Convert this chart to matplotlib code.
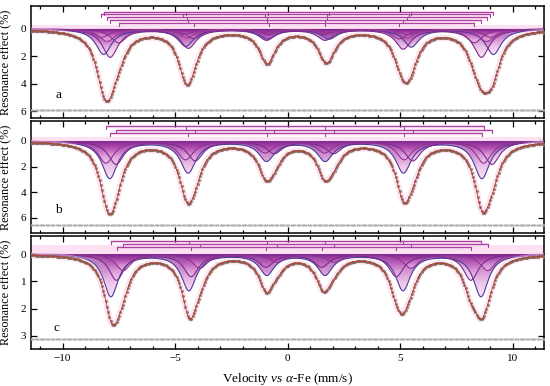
import numpy as np
import matplotlib
matplotlib.use("Agg")
import matplotlib.pyplot as plt
from matplotlib.colors import LinearSegmentedColormap
from matplotlib.patches import Polygon
from matplotlib.ticker import MultipleLocator

plt.rcParams["font.family"] = ["Liberation Serif", "DejaVu Serif"]
plt.rcParams["mathtext.fontset"] = "custom"
plt.rcParams["mathtext.rm"] = "Liberation Serif"
plt.rcParams["mathtext.it"] = "Liberation Serif:italic"

# velocity scale of the spectrometer (mm/s) and number of channels shown
v_min, v_max = -11.4, 11.4
n_channels = 420

# relative positions of the six Zeeman lines (line 1 = -1, line 6 = +1)
zeeman_pos = [-1.0, -0.5787, -0.1575, 0.1575, 0.5787, 1.0]

# sextet components: outer line positions, depth of line 1/6 (%)
a_line1 = [-8.17, -7.88, -8.27, -8.02, -7.50]
a_line6 = [9.15, 8.62, 9.02, 8.85, 8.30]
a_depth = [1.85, 2.05, 0.6, 0.9, 1.0]
a_bar_level = [-1.24, -0.66, -1.06, -0.88, -0.44]
a_ratio = [1.0, 0.67, 0.38, 0.38, 0.70, 1.0]

b_line1 = [-7.90, -7.62, -8.07]
b_line6 = [8.64, 9.09, 8.72]
b_depth = [2.9, 1.8, 1.7]
b_bar_level = [-0.62, -0.88, -1.15]
b_ratio = [1.0, 0.84, 0.52, 0.52, 0.84, 1.0]

c_line1 = [-7.85, -7.60, -7.30]
c_line6 = [8.60, 8.15, 8.90]
c_depth = [1.55, 0.95, 0.60]
c_bar_level = [-0.49, -0.26, -0.38]
c_ratio = [1.0, 0.85, 0.48, 0.48, 0.85, 1.0]

half_width = [0.42, 0.42, 0.40]
resid_level = [5.95, 6.55, 3.10]
panel_labels = ["a", "b", "c"]
label_pos = [(-10.2, 4.8), (-10.2, 5.4), (-10.25, 2.7)]
y_limits = [(6.51, -1.68), (7.17, -1.56), (3.48, -0.66)]
y_step = [2, 2, 1]

edge_colors = ["#4c3a9c", "#7a2a8e", "#8e3592", "#9a3c98", "#8a3090"]
grad_cmap = LinearSegmentedColormap.from_list(
    "comp", ["#741a86", "#b044ad", "#e3a2dc", "#f4d2f0"]
)

panels = [
    (a_line1, a_line6, a_depth, a_bar_level, a_ratio),
    (b_line1, b_line6, b_depth, b_bar_level, b_ratio),
    (c_line1, c_line6, c_depth, c_bar_level, c_ratio),
]

v = np.linspace(v_min, v_max, n_channels)


def sextet(l1, l6, depth, ratio, hw):
    centre = (l1 + l6) / 2
    half = (l6 - l1) / 2
    lines = [centre + half * p for p in zeeman_pos]
    y = np.zeros_like(v)
    for pos, r in zip(lines, ratio):
        y += depth * r / (1 + ((v - pos) / hw) ** 2)
    return lines, y


fig = plt.figure(figsize=(5.5, 3.86), dpi=100)
boxes = [
    [0.0564, 0.6943, 0.9327, 0.2902],
    [0.0564, 0.3964, 0.9327, 0.2902],
    [0.0564, 0.0959, 0.9327, 0.2927],
]

for k, (l1s, l6s, depths, levels, ratio) in enumerate(panels):
    ax = fig.add_axes(boxes[k])
    hw = half_width[k]
    ymax, ymin = y_limits[k]
    tick_len = 3.0 / (112.0 / (ymax - ymin))

    ax.axhspan(-0.32, 0.14, color="#fbe1f2", zorder=0, lw=0)

    total = np.zeros_like(v)
    for j in range(len(l1s)):
        lines, comp = sextet(l1s[j], l6s[j], depths[j], ratio, hw)
        total += comp

        poly = Polygon(
            np.column_stack([np.r_[v, v[::-1]], np.r_[comp, np.zeros_like(v)]]),
            closed=True, facecolor="none", edgecolor="none",
        )
        ax.add_patch(poly)
        grad = np.linspace(0, 1, 256).reshape(-1, 1)
        im = ax.imshow(
            grad, extent=(v_min, v_max, comp.max(), 0), aspect="auto",
            cmap=grad_cmap, alpha=0.62, origin="upper", zorder=1,
        )
        im.set_clip_path(poly)
        ax.plot(v, comp, color=edge_colors[j], lw=0.8, zorder=2)

        # line-position bar above the spectrum
        lev = levels[j]
        ax.plot([lines[0], lines[-1]], [lev, lev], color="#f2c2e8", lw=2.5,
                alpha=0.6, zorder=1, solid_capstyle="butt")
        ax.plot([lines[0], lines[-1]], [lev, lev], color="#a8449f", lw=0.8, zorder=2)
        for pos in lines:
            ax.plot([pos, pos], [lev, lev + tick_len], color="#a8449f", lw=0.8, zorder=2)

    ax.plot(v, total, color="#f7c4e4", lw=4.5, alpha=0.45, zorder=3)
    ax.plot(v, total, "o", ms=2.1, mew=0, color="#7e6a5b", alpha=0.85, zorder=4)
    ax.plot(v, total, color="#c0392b", lw=0.6, zorder=5)
    ax.plot(v, np.full_like(v, resid_level[k]), "o", ms=1.5, mew=0,
            color="#b0b0b0", zorder=4)

    ax.text(label_pos[k][0], label_pos[k][1], panel_labels[k], fontsize=9.5,
            ha="center", va="center")

    ax.set_xlim(v_min, v_max)
    ax.set_ylim(ymax, ymin)
    ax.xaxis.set_major_locator(MultipleLocator(5))
    ax.xaxis.set_minor_locator(MultipleLocator(1))
    ax.yaxis.set_major_locator(MultipleLocator(y_step[k]))
    ax.tick_params(which="both", direction="in", top=True, right=True,
                   labelsize=8, width=0.9)
    ax.tick_params(which="major", length=4.5)
    ax.tick_params(which="minor", length=2.5)
    ax.tick_params(axis="y", which="minor", left=False, right=False)
    for s in ax.spines.values():
        s.set_linewidth(1.1)
    ax.set_ylabel("Resonance effect (%)", fontsize=8.8)
    ax.yaxis.set_label_coords(-0.037, 0.5)
    if k < 2:
        ax.tick_params(labelbottom=False)
    else:
        ax.set_xlabel(r"Velocity $\mathit{vs}$ $\alpha$-Fe (mm/s)", fontsize=9.5,
                      labelpad=6)

fig.savefig("out.png", dpi=100)
